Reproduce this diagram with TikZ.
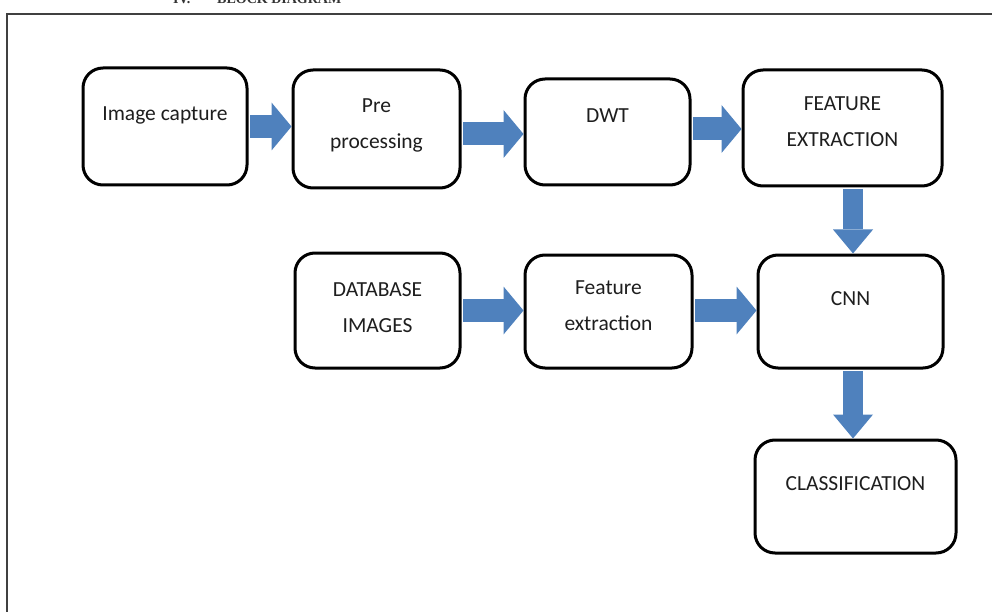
\documentclass[tikz,border=0pt]{standalone}
\usepackage{fontspec}
\setmainfont{Carlito}
\newfontfamily\headfont{Liberation Serif}
\usetikzlibrary{positioning,arrows.meta}
\definecolor{arrblue}{RGB}{79,129,189}
\definecolor{txtcol}{RGB}{30,30,30}
\begin{document}
\begin{tikzpicture}[x=1pt,y=-1pt,
    blk/.style={draw, line width=3pt, rounded corners=20pt, fill=white, inner sep=0pt},
    txt/.style={text=txtcol, inner sep=0pt, align=center, font=\fontsize{21.5}{36}\selectfont},
    hdtxt/.style={anchor = base west, inner sep=0pt, text=black!80, font=\headfont\bfseries\fontsize{14}{16}\selectfont},
    harr/.style={draw=arrblue, line width=23pt, shorten <=1.5pt, -{Triangle[length=20pt, width=48pt, line width=0pt]}},
    varr/.style={draw=arrblue, line width=20pt, shorten <=1.5pt, -{Triangle[length=24pt, width=40pt, line width=0pt]}}]
    \useasboundingbox (0,0) rectangle (992,612);
    \clip (0,0) rectangle (992,612);
    % frame and heading
    \draw[line width=2pt, black!75] (7,640) -- (7,14) -- (1010,14);
    \node[hdtxt] (hd-num) at (173,4) {IV.};
    \node[hdtxt] (hd) at (217,4) {BLOCK DIAGRAM};
    % blocks
    \node[blk, minimum width=164pt, minimum height=117pt] (cap) at (165,126.5) {};
    \node[blk, minimum width=167pt, minimum height=118pt] (pre) at (376.5,129) {};
    \node[blk, minimum width=165pt, minimum height=106pt] (dwt) at (607.5,132) {};
    \node[blk, minimum width=199pt, minimum height=116pt] (fe) at (842.5,128) {};
    \node[blk, minimum width=165pt, minimum height=115pt] (db) at (377.5,310.5) {};
    \node[blk, minimum width=167pt, minimum height=113pt] (fx) at (608.5,311.5) {};
    \node[blk, minimum width=185pt, minimum height=113pt] (cnn) at (850.5,311.5) {};
    \node[blk, minimum width=201pt, minimum height=113pt] (cls) at (855.5,496.5) {};
    % texts
    \node[txt, below=40pt of cap.north] (cap-t) {Image capture};
    \node[txt, below=30pt of pre.north] (pre-t) {Pre\\processing};
    \node[txt, below=31pt of dwt.north] (dwt-t) {DWT};
    \node[txt, below=28pt of fe.north] (fe-t) {FEATURE\\EXTRACTION};
    \node[txt, below=31pt of db.north] (db-t) {DATABASE\\IMAGES};
    \node[txt, below=27pt of fx.north] (fx-t) {Feature\\extraction};
    \node[txt, below=38pt of cnn.north] (cnn-t) {CNN};
    \node[txt, below=38pt of cls.north] (cls-t) {CLASSIFICATION};
    % arrows
    \draw[harr] (cap.east) -- (cap.east -| pre.west);
    \draw[harr] ([yshift=-5pt]pre.east) -- ([yshift=-5pt]pre.east -| dwt.west);
    \draw[harr] ([yshift=3pt]dwt.east) -- ([yshift=3pt]dwt.east -| fe.west);
    \draw[harr] (db.east) -- (db.east -| fx.west);
    \draw[harr] ([yshift=1pt]fx.east) -- ([yshift=1pt]fx.east -| cnn.west);
    \draw[varr] ([xshift=2.5pt]fe.south -| cnn.north) -- ([xshift=2.5pt]cnn.north);
    \draw[varr] ([xshift=2.5pt]cnn.south) -- ([xshift=2.5pt]cnn.south |- cls.north);
\end{tikzpicture}
\end{document}
